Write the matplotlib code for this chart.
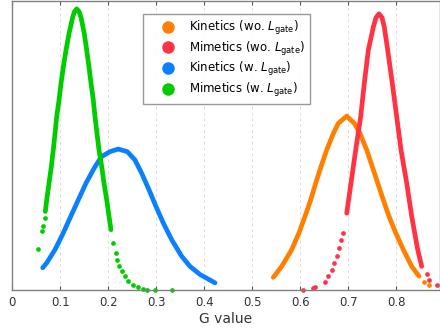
import matplotlib
matplotlib.use('Agg')
import matplotlib.pyplot as plt
from matplotlib.lines import Line2D

plt.rcParams['font.family'] = 'DejaVu Sans'
plt.rcParams['mathtext.fontset'] = 'dejavusans'

# series values (G value, density)
labels = ['Kinetics (wo. $L_{\\mathrm{gate}}$)', 'Mimetics (wo. $L_{\\mathrm{gate}}$)',
          'Kinetics (w. $L_{\\mathrm{gate}}$)', 'Mimetics (w. $L_{\\mathrm{gate}}$)']
colors = ['#ff8000', '#ff3344', '#0a80ff', '#00cc00']

kin_wo_x = [0.5438, 0.5613, 0.5821, 0.5973, 0.6098, 0.6217, 0.6321, 0.6431, 0.6550,
            0.6688, 0.6792, 0.6967, 0.7125, 0.7244, 0.7383, 0.7500, 0.7613, 0.7729,
            0.7848, 0.7988, 0.8146, 0.8321, 0.8473]
kin_wo_y = [0.42, 0.80, 1.38, 1.96, 2.53, 3.10, 3.68, 4.25, 4.83,
            5.40, 5.75, 6.00, 5.75, 5.40, 4.83, 4.25, 3.68, 3.10,
            2.53, 1.96, 1.38, 0.80, 0.46]
kin_wo_tail_x = [0.8583, 0.8681]
kin_wo_tail_y = [0.25, 0.17]

mim_wo_x = [0.6967, 0.7056, 0.7154, 0.7258, 0.7333, 0.7417, 0.7521, 0.7577, 0.7640,
            0.7702, 0.7750, 0.7821, 0.7917, 0.8008, 0.8098, 0.8217, 0.8321, 0.8446,
            0.8529]
mim_wo_y = [2.64, 3.68, 4.83, 5.98, 7.13, 8.28, 9.08, 9.41, 9.54,
            9.41, 9.08, 8.28, 7.13, 5.98, 4.83, 3.68, 2.53, 1.38,
            0.80]
mim_wo_tail_x = [0.6063, 0.6271, 0.6306, 0.6515, 0.6583, 0.6654, 0.6708, 0.6758,
                 0.6806, 0.6848, 0.6896,
                 0.8633, 0.8681, 0.8842]
mim_wo_tail_y = [0.0, 0.06, 0.09, 0.25, 0.46, 0.69, 0.92, 1.15,
                 1.44, 1.72, 1.96,
                 0.52, 0.34, 0.14]

kin_w_x = [0.0633, 0.0717, 0.0890, 0.1063, 0.1217, 0.1375, 0.1535, 0.1723, 0.1863,
           0.2035, 0.2208, 0.2396, 0.2556, 0.2696, 0.2848, 0.2994, 0.3146, 0.3321,
           0.3529, 0.3702, 0.3910, 0.4223]
kin_w_y = [0.75, 0.92, 1.38, 1.96, 2.53, 3.10, 3.68, 4.25, 4.60,
           4.77, 4.86, 4.77, 4.48, 4.02, 3.45, 2.87, 2.30, 1.72,
           1.15, 0.80, 0.52, 0.23]

mim_w_x = [0.0688, 0.0717, 0.0765, 0.0813, 0.0854, 0.0890, 0.0925, 0.0973, 0.1015,
           0.1063, 0.1119, 0.1181, 0.1258, 0.1296, 0.1342, 0.1390, 0.1431, 0.1500,
           0.1550, 0.1598, 0.1640, 0.1688, 0.1723, 0.1765, 0.1806, 0.1863, 0.1910,
           0.1967, 0.2015, 0.2056]
mim_w_y = [2.70, 3.10, 3.68, 4.25, 4.83, 5.40, 5.98, 6.55, 7.13,
           7.70, 8.28, 8.85, 9.42, 9.62, 9.71, 9.62, 9.42, 8.85,
           8.28, 7.70, 7.13, 6.55, 5.98, 5.40, 4.83, 4.25, 3.68,
           3.10, 2.53, 2.07]
mim_w_tail_x = [0.0542, 0.0613, 0.0633, 0.0681,
                0.2104, 0.2160, 0.2188, 0.2229, 0.2279, 0.2348, 0.2417, 0.2521,
                0.2625, 0.2729, 0.2800, 0.2973, 0.3321]
mim_w_tail_y = [1.41, 2.01, 2.21, 2.47,
                1.61, 1.27, 1.03, 0.80, 0.63, 0.46, 0.31, 0.17,
                0.09, 0.02, 0.0, -0.02, -0.02]

xticks = [0, 0.1, 0.2, 0.3, 0.4, 0.5, 0.6, 0.7, 0.8]
xticklabels = ['0', '0.1', '0.2', '0.3', '0.4', '0.5', '0.6', '0.7', '0.8']

fig = plt.figure(figsize=(4.4, 3.29), dpi=100)
ax = fig.add_axes([12.3/440, 39.5/329, (439.5-12.3)/440, (329-40)/329])

curves = [(kin_wo_x, kin_wo_y, kin_wo_tail_x, kin_wo_tail_y),
          (mim_wo_x, mim_wo_y, mim_wo_tail_x, mim_wo_tail_y),
          (kin_w_x, kin_w_y, [], []),
          (mim_w_x, mim_w_y, mim_w_tail_x, mim_w_tail_y)]
for (cx, cy, tx, ty), c in zip(curves, colors):
    ax.plot(cx, cy, '-', color=c, lw=3.4, solid_capstyle='round',
            solid_joinstyle='round', clip_on=False)
    ax.plot(tx, ty, 'o', color=c, ms=3.4, mew=0, clip_on=False)

ax.set_xlim(0, (439.5-12.3)/480)
ax.set_ylim(0, 10)
ax.set_yticks([])
ax.set_xticks(xticks)
ax.set_xticklabels(xticklabels, fontsize=8.5, color='#333333')
ax.tick_params(axis='x', direction='in', length=3, top=True, color='#555555', pad=5)
ax.grid(axis='x', color='#dddddd', lw=0.7, ls=(0, (3, 3)))
ax.set_axisbelow(True)
for s in ax.spines.values():
    s.set_color('#808080')
    s.set_linewidth(1.0)
ax.set_xlabel('G value', fontsize=10, color='#333333', labelpad=2)

handles = [Line2D([], [], marker='o', ls='none', color=c, ms=8) for c in colors]
leg = ax.legend(handles, labels, loc='upper left', bbox_to_anchor=(0.307, 0.954),
                borderaxespad=0, fontsize=8.5, frameon=True, fancybox=False,
                handlelength=3.2, handletextpad=0.2, labelspacing=0.22, borderpad=0.45)
leg.get_frame().set_edgecolor('#808080')
leg.get_frame().set_linewidth(1.0)

plt.savefig('out.png', dpi=100)
